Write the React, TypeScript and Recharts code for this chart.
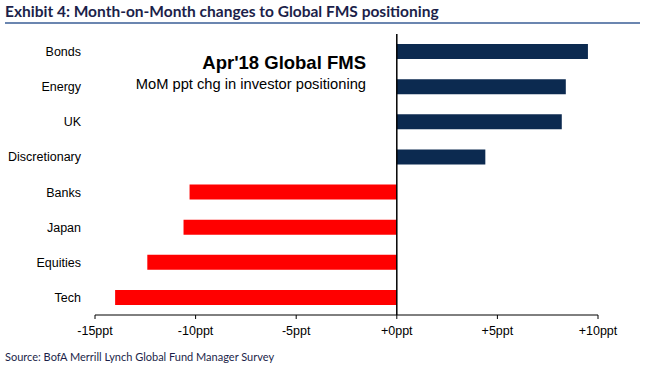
import React from 'react';
import { BarChart, Bar, Cell, XAxis, YAxis, ReferenceLine } from 'recharts';

// MoM ppt change in investor positioning, Apr'18 FMS
const categories = ['Bonds', 'Energy', 'UK', 'Discretionary', 'Banks', 'Japan', 'Equities', 'Tech'];
const changes = [9.5, 8.4, 8.2, 4.4, -10.3, -10.6, -12.4, -14.0];
const xTicks = [-15, -10, -5, 0, 5, 10];

const data = categories.map((name, i) => ({ name, value: changes[i] }));

const NAVY = '#0c2a50';
const RED = '#ff0000';
const axisFont = { fontFamily: 'Liberation Sans, Arial, sans-serif', fontSize: 12.5, fill: '#000' };

const fmtTick = (v: number) => (v >= 0 ? `+${v}ppt` : `${v}ppt`);

const App: React.FC = () => {
  return (
    <div style={{ position: 'absolute', left: 0, top: 0, width: 657, height: 369, background: '#fff' }}>
      <style>{'body{margin:0}'}</style>
      {/* header */}
      <div
        style={{
          position: 'absolute', left: 5, top: 2,
          fontFamily: 'Lato, sans-serif', fontWeight: 700, fontSize: 15.5,
          color: '#1c1f4a', whiteSpace: 'nowrap',
        }}
      >
        Exhibit 4: Month-on-Month changes to Global FMS positioning
      </div>
      <div style={{ position: 'absolute', left: 5, top: 22, width: 635, height: 2, background: '#6b86b0' }} />

      <BarChart
        width={657}
        height={369}
        data={data}
        layout="vertical"
        margin={{ top: 34, right: 59, bottom: 24, left: 0 }}
        barSize={15}
      >
        <XAxis
          type="number"
          domain={[-15, 10]}
          ticks={xTicks}
          tickFormatter={fmtTick}
          axisLine={{ stroke: '#000' }}
          tickLine={{ stroke: '#000' }}
          tickSize={4}
          tickMargin={7}
          height={30}
          tick={axisFont}
        />
        <YAxis
          type="category"
          dataKey="name"
          width={95}
          axisLine={false}
          tickLine={false}
          tickSize={0}
          tickMargin={14}
          tick={axisFont}
        />
        <Bar dataKey="value" isAnimationActive={false}>
          {data.map((d) => (
            <Cell key={d.name} fill={d.value >= 0 ? NAVY : RED} />
          ))}
        </Bar>
        <ReferenceLine x={0} stroke="#000" strokeWidth={1.5} />
        <text x={366} y={69} textAnchor="end" fontFamily="Liberation Sans, Arial, sans-serif" fontWeight={700} fontSize={18.5} fill="#000">
          Apr'18 Global FMS
        </text>
        <text x={366} y={89} textAnchor="end" fontFamily="Liberation Sans, Arial, sans-serif" fontSize={14.7} fill="#000">
          MoM ppt chg in investor positioning
        </text>
      </BarChart>

      <div
        style={{
          position: 'absolute', left: 5, top: 350,
          fontFamily: 'Lato, sans-serif', fontSize: 11,
          color: '#1c1f4a', whiteSpace: 'nowrap',
        }}
      >
        Source: BofA Merrill Lynch Global Fund Manager Survey
      </div>
    </div>
  );
};

export default App;
